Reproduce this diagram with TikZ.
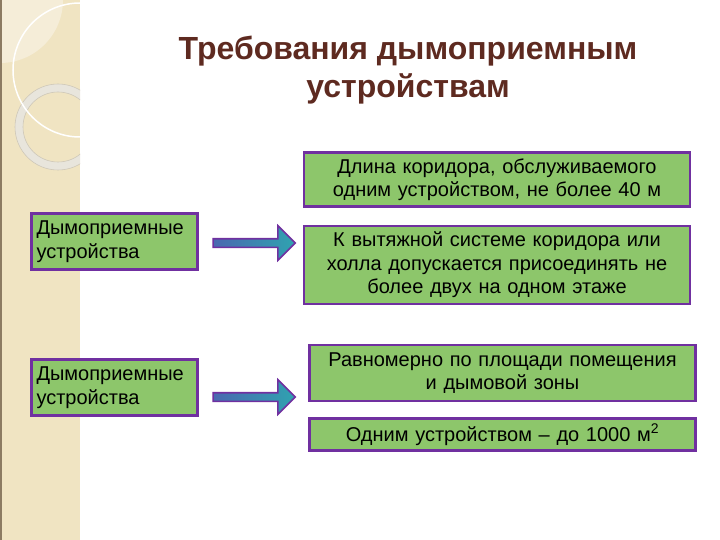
\documentclass[tikz,border=0pt]{standalone}
\usepackage{fontspec}
\setmainfont{Liberation Sans}
\usepackage{xcolor}
\usetikzlibrary{shapes.arrows}

\definecolor{boxgreen}{HTML}{8DC66B}
\definecolor{boxpurple}{HTML}{7030A0}
\definecolor{titlebrown}{HTML}{5E2A20}
\definecolor{arrowblue}{HTML}{4A68B0}
\definecolor{arrowteal}{HTML}{2FA3B0}
\definecolor{stripbeige}{HTML}{F0E4C2}
\definecolor{striplight}{HTML}{F5EDD8}
\definecolor{stripdark}{HTML}{8C7B62}
\definecolor{ringgrey}{HTML}{E8E5DC}
\definecolor{ringedge}{HTML}{CFC8B8}

\begin{document}
\begin{tikzpicture}[x=1pt,y=-1pt,
    bodytext/.style={font=\fontsize{20}{23.5}\selectfont},
    leftbox/.style={bodytext, draw=boxpurple, line width=2.5pt, fill=boxgreen,
        minimum width=166pt, minimum height=56pt, text width=156pt, align=left, inner sep=0pt},
    reqbox/.style={bodytext, draw=boxpurple, line width=2.5pt, fill=boxgreen,
        minimum width=386pt, text width=380pt, align=center, inner sep=0pt},
    bigarrow/.style={single arrow, draw=boxpurple, line width=1.6pt,
        left color=arrowblue, right color=arrowteal,
        minimum height=82pt, minimum width=34pt, inner sep=3.5pt,
        single arrow head extend=13pt}]
    \useasboundingbox (0,0) rectangle (720,540);
    \fill[white] (0,0) rectangle (720,540);

    % Left strip
    \begin{scope}
        \clip (0,0) rectangle (80,540);
        \fill[stripbeige] (0,0) rectangle (80,540);
        \fill[striplight] (0,0) circle (63);
        \draw[ringgrey, line width=8pt] (58,127) circle (39);
        \draw[ringedge, line width=0.6pt] (58,127) circle (43);
        \draw[ringedge, line width=0.6pt] (58,127) circle (35);
        \draw[white, line width=1.5pt] (80,70) circle (67);
    \end{scope}
    \fill[stripdark] (0,0) rectangle (2,540);

    % Title
    \node[font=\fontsize{32}{38}\selectfont\bfseries, text=titlebrown, align=center]
        (title) at (408,70) {Требования дымоприемным\\устройствам};

    % Upper group
    \node[leftbox] (dym1) at (114.5,241.5) {Дымоприемные\\устройства};
    \node[bigarrow] (arr1) at (252,243) {};
    \node[reqbox, minimum height=54pt] (req1) at (497,179.5)
        {Длина коридора, обслуживаемого\\одним устройством, не более 40 м};
    \node[reqbox, minimum height=78pt] (req2) at (497,265)
        {К вытяжной системе коридора или\\холла допускается присоединять не\\более двух на одном этаже};

    % Lower group
    \node[leftbox] (dym2) at (114.5,387.5) {Дымоприемные\\устройства};
    \node[bigarrow] (arr2) at (252,397) {};
    \node[reqbox, minimum height=56pt] (req3) at (502.5,373)
        {Равномерно по площади помещения\\и дымовой зоны};
    \node[reqbox, minimum height=32pt] (req4) at (502.5,434.5)
        {Одним устройством – до 1000 м\textsuperscript{2}};
\end{tikzpicture}
\end{document}
